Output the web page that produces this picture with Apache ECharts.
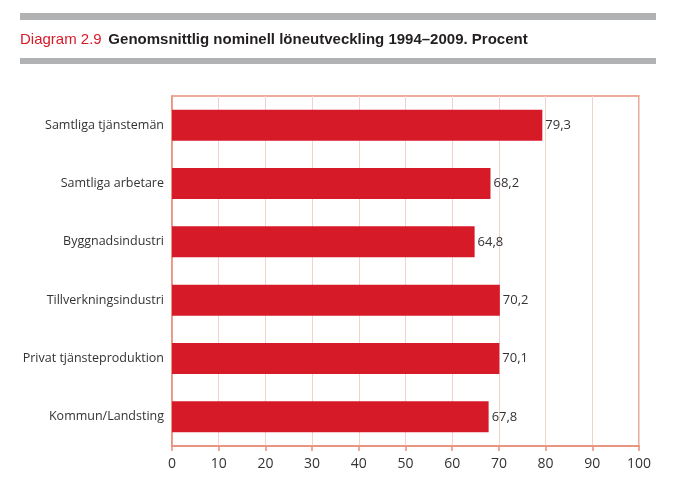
<!DOCTYPE html>
<html><head><meta charset="utf-8">
<script src="https://cdn.jsdelivr.net/npm/echarts@6/dist/echarts.min.js"></script>
<style>html,body{margin:0;padding:0;background:#fff}#c{width:674px;height:483px}</style>
</head><body><div id="c"></div>
<script>
const categories = ['Samtliga tjänstemän','Samtliga arbetare','Byggnadsindustri','Tillverkningsindustri','Privat tjänsteproduktion','Kommun/Landsting'];
const values = [79.3, 68.2, 64.8, 70.2, 70.1, 67.8];
const xTicks = [0,10,20,30,40,50,60,70,80,90,100];

const chart = echarts.init(document.getElementById('c'), null, {renderer:'canvas'});
const font = 'Liberation Sans Narrow, Arial Narrow, sans-serif';
chart.setOption({
  animation:false,
  graphic:[
    {type:'rect', shape:{x:20,y:13,width:636,height:7}, style:{fill:'#b1b2b4'}},
    {type:'rect', shape:{x:20,y:58,width:636,height:6}, style:{fill:'#b1b2b4'}},
    {type:'text', left:20, top:32, style:{
      text:'{r|Diagram 2.9}  {b|Genomsnittlig nominell löneutveckling 1994–2009. Procent}',
      rich:{
        r:{fill:'#d71a28', fontSize:15, fontFamily:font},
        b:{fill:'#231f20', fontSize:15, fontFamily:font, fontWeight:'bold'}
      }}}
  ],
  grid:{left:172, right:35, top:96, bottom:37, show:true, borderColor:'#e8907a', borderWidth:1.5},
  xAxis:{type:'value', min:0, max:100, interval:10,
    axisLine:{show:true, lineStyle:{color:'#e8907a', width:1.5}},
    axisTick:{show:true, length:5, lineStyle:{color:'#e8907a', width:1.5}},
    axisLabel:{color:'#333', fontSize:14, fontFamily:'Open Sans, sans-serif', margin:11},
    splitLine:{show:true, lineStyle:{color:'#f2d2cc', width:1}}
  },
  yAxis:{type:'category', data:categories, inverse:true,
    axisLine:{show:true, lineStyle:{color:'#e8907a', width:1.5}},
    axisTick:{show:false},
    axisLabel:{color:'#333', fontSize:12.5, fontFamily:'Open Sans, sans-serif', margin:8}
  },
  series:[{type:'bar', data:values, barWidth:31,
    itemStyle:{color:'#d71a28'},
    label:{show:true, position:'right', distance:3, color:'#333', fontSize:13, fontFamily:'Open Sans, sans-serif',
      formatter:p=>String(p.value).replace('.',',')}
  }]
});
</script></body></html>
